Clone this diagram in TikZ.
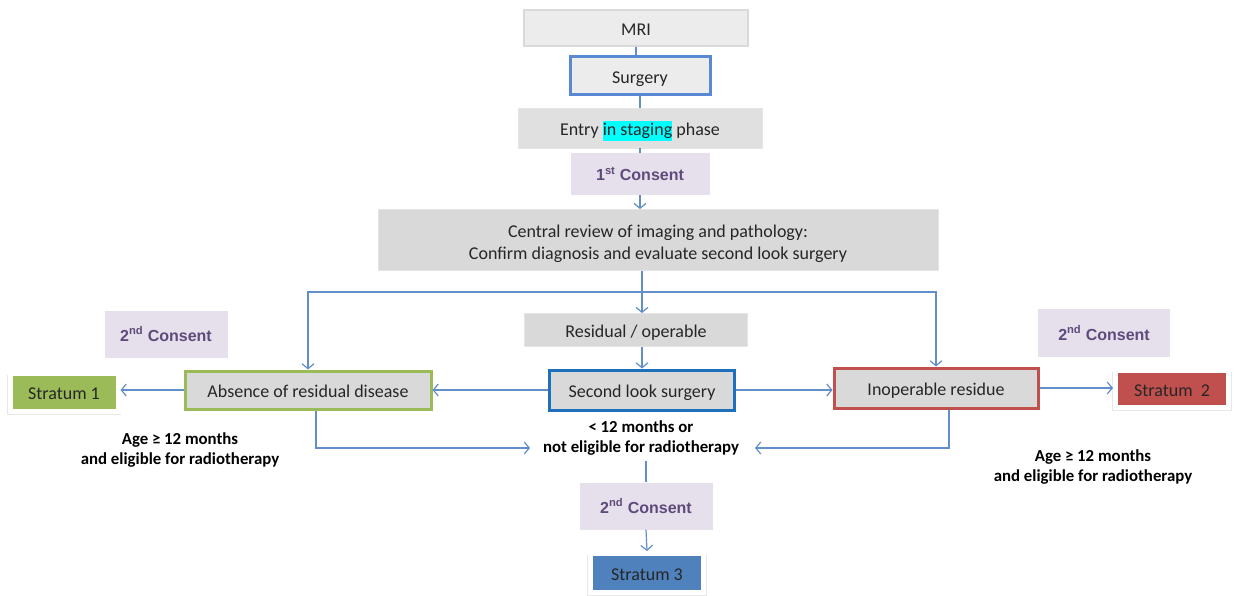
\documentclass[tikz,border=0pt]{standalone}
\usepackage{fontspec}
\setmainfont{Carlito}
\newfontfamily\consentfont{Liberation Sans}
\usetikzlibrary{arrows.meta,shadows}

\definecolor{linkblue}{RGB}{98,142,202}
\definecolor{boxgray}{RGB}{217,217,217}
\definecolor{lightgray}{RGB}{236,236,236}
\definecolor{consentbg}{RGB}{229,224,236}
\definecolor{consenttext}{RGB}{96,74,123}
\definecolor{surgblue}{RGB}{88,137,210}
\definecolor{deepblue}{RGB}{30,112,186}
\definecolor{leafgreen}{RGB}{155,187,89}
\definecolor{brickred}{RGB}{192,80,77}
\definecolor{stratblue}{RGB}{79,129,189}
\definecolor{marker}{RGB}{0,255,255}

\newcommand\hilite[1]{{\setlength{\fboxsep}{0pt}\colorbox{marker}{\rule[-6pt]{0pt}{20pt}#1}}}

\tikzset{
  box/.style={rectangle, inner sep=0pt, align=center, text=black!85,
              font=\fontsize{18}{22}\selectfont},
  oneline/.style={text height=17pt, text depth=2pt},
  graybox/.style={box, fill=boxgray, draw=black!10, line width=0.8pt},
  paleboxx/.style={box, oneline, fill=lightgray, draw=black!15, line width=1.5pt},
  framed/.style={box, oneline, fill=boxgray, line width=3pt,
                 drop shadow={opacity=0.25, shadow xshift=1pt, shadow yshift=-1.5pt}},
  consent/.style={box, fill=consentbg, text=consenttext,
                  font=\consentfont\bfseries\fontsize{16}{18}\selectfont},
  stratum/.style={box, oneline, draw=white, line width=5pt,
                  drop shadow={opacity=0.18, shadow xshift=0pt, shadow yshift=-2.5pt, shadow scale=1.06}},
  note/.style={align=center, inner sep=0pt, text=black,
               font=\bfseries\fontsize{16.8}{20}\selectfont},
  ln/.style={draw=linkblue, line width=1.2pt},
  arr/.style={ln, -{Straight Barb[length=5pt,width=12pt]}},
}

\begin{document}
\begin{tikzpicture}[x=1pt,y=-1pt]
\useasboundingbox (0,0) rectangle (1234,596);

% upper chain
\node[paleboxx, minimum width=224, minimum height=36] (mri) at (636,28) {MRI};
\node[box, oneline, fill=lightgray, draw=surgblue, line width=3pt,
      minimum width=140, minimum height=38] (surgery) at (640,76) {Surgery};
\node[graybox, oneline, fill=black!12, minimum width=244, minimum height=40] (entry) at (640,128)
      {Entry \hilite{in staging} phase};
\node[consent, minimum width=139, minimum height=42] (c1) at (640,174) {1\textsuperscript{st} Consent};
\node[graybox, text height=40pt, text depth=1.5pt, minimum width=560, minimum height=61] (review) at (658,240)
      {Central review of imaging and pathology:\\Confirm diagnosis and evaluate second look surgery};

% middle row
\node[graybox, oneline, minimum width=223, minimum height=33] (resid) at (636,330) {Residual / operable};
\node[framed, draw=deepblue, minimum width=185, minimum height=40] (slook) at (642,390) {Second look surgery};
\node[framed, draw=leafgreen, minimum width=246, minimum height=38] (absence) at (308,390) {Absence of residual disease};
\node[framed, draw=brickred, minimum width=204, minimum height=40] (inop) at (936,388) {Inoperable residue};

% strata
\node[stratum, fill=leafgreen, minimum width=108, minimum height=38] (s1) at (64,392) {Stratum 1};
\node[stratum, fill=brickred, minimum width=113, minimum height=37] (s2) at (1172,389) {Stratum\ \ 2};
\node[stratum, fill=stratblue, minimum width=113, minimum height=39] (s3) at (647,573) {Stratum 3};

% second consents
\node[consent, minimum width=123, minimum height=47] (c2l) at (166,334) {2\textsuperscript{nd} Consent};
\node[consent, minimum width=132, minimum height=48] (c2r) at (1104,333) {2\textsuperscript{nd} Consent};
\node[consent, minimum width=133, minimum height=47] (c2b) at (646,506) {2\textsuperscript{nd} Consent};

% conditions
\node[note] (young) at (641,438) {< 12 months or\\not eligible for radiotherapy};
\node[note] (agel) at (180,450) {Age ≥ 12 months\\and eligible for radiotherapy};
\node[note] (ager) at (1093,467) {Age ≥ 12 months\\and eligible for radiotherapy};

\coordinate (split) at (642,292);
\coordinate (inL) at (530,448);
\coordinate (inR) at (755,448);

% connectors
\draw[ln] (mri.south) -- (mri.south |- surgery.north);
\draw[ln] (surgery.south) -- (surgery.south |- entry.north);
\draw[ln] (entry.south) -- (entry.south |- c1.north);
\draw[arr] (c1.south) -- (c1.south |- review.north);
\draw[arr] (review.south -| slook.north) -- (resid.north -| slook.north);
\draw[arr] (split) -| (absence.north);
\draw[arr] (split) -| (inop.north);
\draw[arr] (resid.south -| slook.north) -- (slook.north);
\draw[arr] (slook.west) -- (absence.east);
\draw[arr] (slook.east) -- (inop.west |- slook.east);
\draw[arr] (absence.west) -- (s1.east |- absence.west);
\draw[arr] (inop.east) -- (s2.west |- inop.east);
\draw[arr] ([xshift=8pt]absence.south) |- (inL);
\draw[arr] ([xshift=13pt]inop.south) |- (inR);
\draw[ln] ([yshift=-5pt]young.south -| c2b.north) -- (c2b.north);
\draw[arr] (c2b.south) -- (s3.north);
\end{tikzpicture}
\end{document}
